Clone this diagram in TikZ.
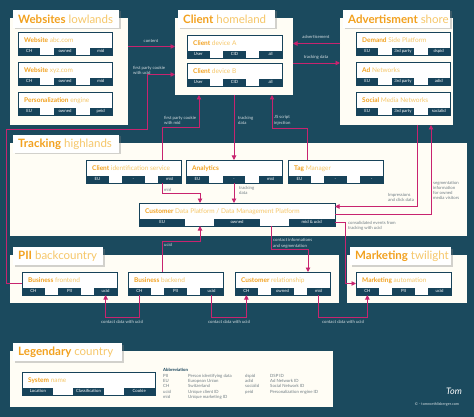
\documentclass[tikz,border=0pt]{standalone}
\usepackage{fontspec}
\setmainfont{Lato}
\usetikzlibrary{arrows.meta,shadows}

\definecolor{bg}{HTML}{1B4A5E}
\definecolor{tabc}{HTML}{17435A}
\definecolor{cream}{HTML}{FFFDF5}
\definecolor{linkc}{HTML}{C8246F}
\definecolor{orangedk}{HTML}{F2A11F}
\definecolor{orangelt}{HTML}{F6C76A}
\definecolor{labelc}{HTML}{D5DEE2}
\definecolor{abbrc}{HTML}{6F7C83}

\tikzset{
  frame/.style={fill=cream, anchor=north west, inner sep=0, outer sep=0},
  titlebox/.style={fill=white, anchor=north west, inner sep=0, outer sep=0, minimum height=18,
    drop shadow={shadow xshift=1.5pt, shadow yshift=-1.5pt, opacity=0.35}},
  titletext/.style={anchor=west, inner sep=0, text=orangelt, font=\fontsize{11.5}{12}\selectfont},
  sysbox/.style={draw=tabc, fill=white, line width=0.8pt, anchor=north west, inner sep=0, outer sep=0, minimum height=23},
  tab/.style={fill=tabc, text=white, inner sep=0, minimum height=7, font=\fontsize{4.3}{5}\selectfont},
  systitle/.style={anchor=west, inner sep=0, text=orangelt, font=\fontsize{6.5}{7}\selectfont},
  link/.style={draw=linkc, line width=0.9pt, -{Triangle[length=4.5pt,width=4.5pt]}},
  lbl/.style={text=labelc, inner sep=0, align=left, font=\fontsize{4.3}{5.2}\selectfont},
  lblw/.style={lbl, text=abbrc}
}

% region: name, x, y, width, height, title width, bold word, rest
\newcommand{\region}[8]{%
  \node[frame, minimum width=#4, minimum height=#5] (#1) at (#2,#3) {};
  \node[titlebox, minimum width=#6] (#1T) at ([xshift=3,yshift=8]#1.north west) {};
  \node[titletext] (#1Tx) at ([xshift=5]#1T.west) {\textbf{\color{orangedk}#7} #8};
}
% system: name, x, y, width, bold word, rest, tab 1, tab 2, tab 3
\newcommand{\system}[9]{%
  \node[sysbox, minimum width=#4] (#1) at (#2,#3) {};
  \node[tab, minimum width=0.235*#4, anchor=south west] (#1-1) at (#1.south west) {#7};
  \node[tab, minimum width=0.235*#4, anchor=south] (#1-2) at (#1.south) {#8};
  \node[tab, minimum width=0.235*#4, anchor=south east] (#1-3) at (#1.south east) {#9};
  \node[systitle] (#1-t) at ([xshift=6,yshift=-8.5]#1.north west) {\textbf{\color{orangedk}#5} #6};
}

\begin{document}
\begin{tikzpicture}[x=1pt, y=-1pt]
\fill[bg] (0,0) rectangle (474,417);
\useasboundingbox (0,0) rectangle (474,417);

% regions
\region{web}{10}{18}{118}{107}{106}{Websites}{lowlands}
\region{client}{175}{18}{118}{77}{97}{Client}{homeland}
\region{adv}{340}{18}{113}{107}{107}{Advertisment}{shore}
\region{track}{10}{143}{457}{93}{106}{Tracking}{highlands}
\region{pii}{10}{255}{329}{48}{90}{PII}{backcountry}
\region{mkt}{347}{255}{120}{48}{101}{Marketing}{twilight}
\region{leg}{10}{351}{323}{56}{109}{Legendary}{country}

% systems
\system{web1}{18}{32}{94}{Website}{abc.com}{CH}{owned}{mid}
\system{web2}{18}{62}{94}{Website}{xyz.com}{CH}{owned}{mid}
\system{pers}{18}{92}{94}{Personalization}{engine}{EU}{owned}{peid}
\system{devA}{187}{35}{95}{Client}{device A}{User}{CID}{all}
\system{devB}{187}{63}{95}{Client}{device B}{User}{CID}{all}
\system{dsp}{356}{32}{94}{Demand}{Side Platform}{EU}{3rd party}{dspid}
\system{adn}{356}{62}{94}{Ad}{Networks}{EU}{3rd party}{adid}
\system{smn}{356}{92}{94}{Social}{Media Networks}{EU}{3rd party}{socialid}
\system{cis}{86}{160}{95}{Client}{identification service}{EU}{-}{mid}
\system{ana}{186}{160}{96}{Analytics}{}{EU}{-}{mid}
\system{tag}{288}{160}{95}{Tag}{Manager}{EU}{-}{-}
\system{cdp}{139}{203}{196}{Customer}{Data Platform / Data Management Platform}{EU}{owned}{mid \& ucid}
\system{bfe}{22}{272}{95}{Business}{frontend}{CH}{PII}{ucid}
\system{bbe}{128}{272}{95}{Business}{backend}{CH}{PII}{ucid}
\system{crm}{235}{272}{95}{Customer}{relationship}{CH}{owned}{mid}
\system{mau}{356}{272}{95}{Marketing}{automation}{CH}{PII}{ucid}
\system{sys}{22}{372}{133}{System}{name}{Location}{Classification}{Cookie}

% connectors
\draw[link] (web.east |- devA.west) -- (client.west |- devA.west);
\node[lbl] (lcontent) at (151,41) {content};
\draw[link] (bfe.west) -- ++(-16,0) |- (147,129) |- (client.west |- devB.west);
\node[lbl, anchor=south west] (lcookie1) at (133,75) {first party cookie\\with ucid};
\draw[link] ([xshift=-19]cis.north east) |- (199,127) -- ([xshift=24]client.south west);
\node[lbl, anchor=south west] (lcookie2) at (164,125) {first party cookie\\with mid};
\draw[link] (client.south -| ana.north) -- (ana.north);
\node[lbl, anchor=south west] (ltrack1) at (238,125) {tracking\\data};
\draw[link] ([xshift=19]tag.north west) |- (272,128) -- ([xshift=97]client.south west);
\node[lbl, anchor=south west] (ljs) at (274,125) {JS script\\injection};
\draw[link] (ana.south) -- (ana.south |- cdp.north);
\node[lblw, anchor=north west] (ltrack2) at (239,186) {tracking\\data};
\draw[link] ([xshift=-19]cis.south east) -- ++(0,10) -| ([xshift=61]cdp.north west);
\node[lblw, anchor=south west] (lmid) at (164,192) {mid};
\draw[link] (adv.west |- dsp.west) -- (client.east |- dsp.west);
\node[lbl] (ladv) at (316,37) {advertisement};
\draw[link] (client.east |- devB.north) -- (adv.west |- devB.north);
\node[lbl] (ltrack3) at (316,57) {tracking data};
\draw[link] ([xshift=-36]adv.south east) |- ([yshift=8]cdp.east);
\node[lblw, anchor=south west] (limp) at (388,202) {Impressions\\and click data};
\draw[link] (cdp.east) -| ([xshift=-22]adv.south east);
\node[lblw, anchor=north west] (lseg) at (433,181) {segmentation\\information\\for owned\\media visitors};
\draw[link] ([yshift=-8]cdp.east) -- ++(10,0) |- (mau.west);
\node[lblw, anchor=north west] (lcons) at (348,221) {consolidated events from\\tracking with ucid};
\draw[link] ([xshift=34]bbe.north west) -- ++(0,-31) -| ([xshift=61]cdp.south west);
\node[lbl, anchor=north west] (lucid) at (164,243) {ucid};
\draw[link] ([xshift=132]cdp.south west) -- ++(0,23) -| ([xshift=-22]crm.north east);
\node[lbl, anchor=south west] (lcontact) at (273,248) {contact informations\\and segmentation};
\draw[link] (bbe-1.south) -- ++(0,22) -| (bfe-3.south);
\node[lbl] (lcd1) at (122,322) {contact data with ucid};
\draw[link] (bbe-3.south) -- ++(0,22) -| (crm-1.south);
\node[lbl] (lcd2) at (229,322) {contact data with ucid};
\draw[link] (crm-3.south) -- ++(0,22) -| (mau-1.south);
\node[lbl] (lcd3) at (343,322) {contact data with ucid};

% legend
\node[anchor=north west, inner sep=0, text=abbrc, font=\fontsize{4.3}{5.3}\selectfont] (abbr) at (163,368)
  {\setlength{\tabcolsep}{0pt}\begin{tabular}{p{25pt}p{57pt}p{25pt}l}
   \multicolumn{4}{l}{\textbf{\color{tabc}Abbreviation}}\\
   PII & Person identifying data & dspid & DSP ID\\
   EU & European Union & adid & Ad Network ID\\
   CH & Switzerland & socialid & Social Network ID\\
   ucid & Unique client ID & peid & Personalization engine ID\\
   mid & Unique marketing ID & & \\
  \end{tabular}};
\node[text=white, font=\itshape\fontsize{9}{9}\selectfont] (sign) at (454,391) {Tom};
\node[text=labelc, font=\fontsize{3.8}{4}\selectfont] (copy) at (437,404) {© - tomroethlisberger.com};
\end{tikzpicture}
\end{document}
